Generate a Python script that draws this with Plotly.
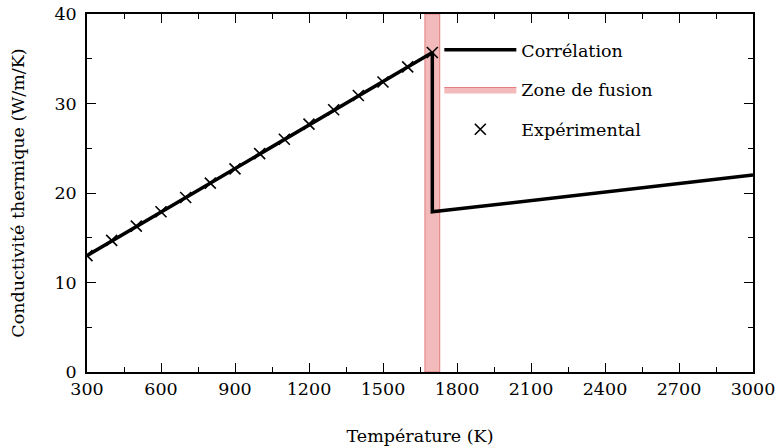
import plotly.graph_objects as go

# Data
temp_exp = [300, 400, 500, 600, 700, 800, 900, 1000, 1100, 1200, 1300, 1400, 1500, 1600, 1700]
k_exp = [13.0, 14.7, 16.3, 17.9, 19.5, 21.1, 22.7, 24.4, 26.0, 27.7, 29.3, 30.9, 32.4, 34.1, 35.7]

temp_corr = [300, 1700, 1700, 3000]
k_corr = [13.0, 35.7, 17.9, 22.0]

fusion_min = 1670
fusion_max = 1730

x_ticks = [300, 600, 900, 1200, 1500, 1800, 2100, 2400, 2700, 3000]
y_ticks = [0, 10, 20, 30, 40]

FONT = "DejaVu Serif"
FS = 17.5

fig = go.Figure()

fig.add_trace(go.Scatter(
    x=[fusion_min, fusion_max, fusion_max, fusion_min, fusion_min],
    y=[0, 0, 40, 40, 0],
    fill="toself", mode="lines",
    fillcolor="rgba(242,186,186,1)",
    line=dict(color="rgb(225,125,125)", width=1),
    name="Zone de fusion", legendrank=2, legendgroup="b",
))
fig.add_trace(go.Scatter(
    x=temp_corr, y=k_corr, mode="lines",
    line=dict(color="black", width=3.5),
    name="Corrélation", legendrank=1, legendgroup="a",
))
fig.add_trace(go.Scatter(
    x=temp_exp, y=k_exp, mode="markers",
    marker=dict(symbol="x-thin", size=11, line=dict(color="black", width=1.6), color="black"),
    name="Expérimental", legendrank=3, legendgroup="c",
))

axis_common = dict(
    showline=True, linecolor="black", linewidth=1.5, mirror="allticks",
    ticks="inside", ticklen=9, tickwidth=1.2, tickcolor="black",
    showgrid=False, zeroline=False, automargin=False,
    ticklabeloverflow="allow",
    tickfont=dict(family=FONT, size=FS, color="black"),
)

fig.update_xaxes(
    range=[300, 3000], tickvals=x_ticks,
    minor=dict(ticks="inside", ticklen=5, tickwidth=1.2, tickcolor="black", dtick=150, tick0=300),
    title=dict(text="Température (K)", font=dict(family=FONT, size=FS, color="black"), standoff=32),
    **axis_common,
)
fig.update_yaxes(
    range=[0, 40], tickvals=y_ticks, ticklabelstandoff=5,
    minor=dict(ticks="inside", ticklen=5, tickwidth=1.2, tickcolor="black", dtick=5, tick0=0),
    title=dict(text="Conductivité thermique (W/m/K)", font=dict(family=FONT, size=FS, color="black"), standoff=25),
    **axis_common,
)

fig.update_layout(
    width=777, height=447,
    margin=dict(l=87, r=24, t=14, b=75),
    plot_bgcolor="white", paper_bgcolor="white",
    font=dict(family=FONT, size=FS, color="black"),
    legend=dict(
        x=0.529, y=0.95, xanchor="left", yanchor="top",
        bgcolor="rgba(0,0,0,0)", borderwidth=0,
        font=dict(family=FONT, size=FS, color="black"),
        tracegroupgap=14, itemwidth=72,
    ),
)

# remove the default page margin so the figure sits at the window's top-left corner
fig.write_html(
    "out.html",
    config={"displayModeBar": False},
    post_script="document.body.style.margin='0';document.body.style.overflow='hidden';",
)
